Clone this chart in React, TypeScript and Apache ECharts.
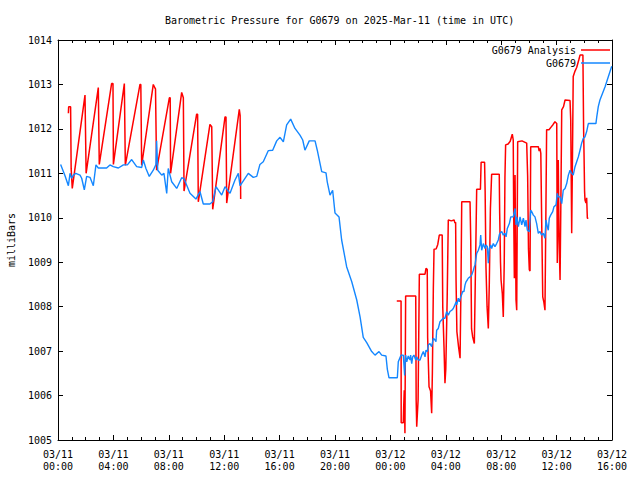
import React, { useEffect, useRef } from "react";
import * as echarts from "echarts";

const TITLE = "Barometric Pressure for G0679 on 2025-Mar-11 (time in UTC)";
const FONT = "'DejaVu Sans Mono', 'Liberation Mono', monospace";

// x in hours since 03/11 00:00 UTC
const xTickLabels = [
  "03/11\n00:00", "03/11\n04:00", "03/11\n08:00", "03/11\n12:00", "03/11\n16:00",
  "03/11\n20:00", "03/12\n00:00", "03/12\n04:00", "03/12\n08:00", "03/12\n12:00", "03/12\n16:00",
];

const analysisEarly: [number, number][] = [
  [0.75, 1012.35], [0.77, 1012.5], [0.91, 1012.5], [0.95, 1011.1], [1.03, 1010.66],
  [1.95, 1012.76], [2.0, 1012.76], [2.03, 1011.0],
  [2.91, 1012.93], [2.96, 1012.93], [2.98, 1011.2],
  [3.87, 1013.02], [3.97, 1013.02], [4.0, 1011.2],
  [4.79, 1013.02], [4.82, 1013.02], [4.86, 1011.18],
  [5.92, 1013.0], [5.98, 1013.0], [6.04, 1011.18],
  [6.88, 1013.0], [7.0, 1012.92], [7.04, 1012.9], [7.12, 1011.07],
  [8.04, 1012.7], [8.1, 1012.7], [8.13, 1011.0],
  [8.93, 1012.82], [9.05, 1012.7], [9.1, 1010.6],
  [10.01, 1012.33], [10.08, 1012.33], [10.13, 1010.36],
  [10.97, 1012.1], [11.1, 1012.05], [11.17, 1010.19],
  [12.06, 1012.27], [12.13, 1012.27], [12.18, 1010.33],
  [13.09, 1012.44], [13.15, 1012.3], [13.19, 1010.42],
];

const analysisLate: [number, number][] = [
  [24.46, 1008.13], [24.77, 1008.13], [24.78, 1005.39], [24.93, 1005.39], [24.96, 1005.75],
  [25.0, 1006.12], [25.05, 1005.15], [25.1, 1008.24], [25.83, 1008.24], [25.86, 1005.9],
  [25.9, 1005.3], [26.0, 1005.9], [26.09, 1008.73], [26.5, 1008.73], [26.57, 1008.86],
  [26.66, 1008.84], [26.69, 1007.3], [26.79, 1006.2], [26.9, 1006.1], [26.98, 1005.6],
  [27.03, 1006.5], [27.1, 1008.4], [27.15, 1009.29], [27.3, 1009.3], [27.42, 1009.4],
  [27.53, 1009.61], [27.74, 1009.61], [27.78, 1008.0], [27.87, 1007.1], [27.94, 1006.28],
  [28.0, 1006.6], [28.1, 1008.2], [28.18, 1009.95], [28.4, 1009.93], [28.6, 1009.95],
  [28.66, 1009.88], [28.71, 1009.9], [28.74, 1008.6], [28.8, 1007.44], [28.92, 1007.1],
  [29.03, 1006.84], [29.1, 1008.6], [29.15, 1010.36], [29.75, 1010.36], [29.8, 1009.5],
  [29.86, 1007.5], [29.94, 1007.32], [30.06, 1007.17], [30.14, 1008.8], [30.23, 1010.64],
  [30.5, 1010.64], [30.55, 1011.25], [30.8, 1011.25], [30.84, 1010.6], [30.9, 1008.9],
  [30.98, 1008.0], [31.07, 1007.51], [31.14, 1008.5], [31.22, 1010.2], [31.31, 1010.98],
  [31.86, 1010.98], [31.89, 1010.1], [31.95, 1009.0], [31.99, 1008.6], [32.08, 1008.3],
  [32.15, 1007.77], [32.22, 1009.0], [32.27, 1010.9], [32.32, 1011.64], [32.5, 1011.66],
  [32.65, 1011.72], [32.8, 1011.88], [32.87, 1011.75], [32.9, 1010.2], [32.95, 1008.64],
  [33.0, 1010.96], [33.07, 1008.15], [33.12, 1007.92], [33.19, 1011.71], [33.5, 1011.73],
  [33.84, 1011.68], [33.91, 1010.93], [33.97, 1009.3], [34.03, 1008.83], [34.08, 1008.8],
  [34.13, 1011.6], [34.68, 1011.6], [34.74, 1011.5], [34.8, 1011.56], [34.86, 1011.45],
  [34.92, 1010.0], [35.0, 1008.22], [35.08, 1008.1], [35.16, 1007.92], [35.22, 1009.9],
  [35.28, 1011.98], [35.45, 1011.98], [35.6, 1012.04], [35.75, 1012.1], [35.88, 1012.16],
  [36.01, 1012.12], [36.05, 1008.98], [36.12, 1011.3], [36.18, 1009.5], [36.25, 1008.6],
  [36.31, 1010.4], [36.37, 1012.43], [36.5, 1012.5], [36.61, 1012.65], [36.97, 1012.64],
  [37.02, 1012.2], [37.09, 1009.65], [37.15, 1011.5], [37.2, 1013.18], [37.33, 1013.3],
  [37.45, 1013.38], [37.6, 1013.55], [37.69, 1013.66], [37.9, 1013.66], [37.95, 1012.0],
  [37.98, 1011.45], [38.02, 1010.6], [38.05, 1010.4], [38.12, 1010.33], [38.17, 1010.45],
  [38.22, 1009.99], [38.29, 1009.99],
];

const station: [number, number][] = [
  [0.19, 1011.2], [0.5, 1010.95], [0.75, 1010.72], [0.87, 1011.0], [0.99, 1010.89],
  [1.11, 1010.96], [1.28, 1011.0], [1.59, 1010.96], [1.71, 1010.89], [1.9, 1010.63],
  [2.07, 1010.93], [2.31, 1010.91], [2.55, 1010.72], [2.74, 1011.19], [2.91, 1011.12],
  [3.51, 1011.12], [3.75, 1011.19], [3.99, 1011.15], [4.36, 1011.12], [4.72, 1011.19],
  [5.01, 1011.19], [5.32, 1011.31], [5.68, 1011.15], [6.04, 1011.13], [6.16, 1011.3],
  [6.35, 1011.11], [6.59, 1010.93], [6.88, 1011.07], [7.07, 1011.2], [7.12, 1011.73],
  [7.2, 1011.07], [7.49, 1010.96], [7.65, 1011.0], [7.85, 1010.55], [7.96, 1011.11],
  [8.21, 1010.81], [8.57, 1010.66], [8.93, 1010.9], [9.1, 1010.88], [9.53, 1010.55],
  [9.96, 1010.42], [10.25, 1010.59], [10.49, 1010.31], [10.97, 1010.31], [11.17, 1010.36],
  [11.41, 1010.7], [11.82, 1010.51], [12.06, 1010.7], [12.42, 1010.55], [12.78, 1010.85],
  [13.02, 1011.0], [13.14, 1010.72], [13.74, 1011.0], [14.1, 1010.91], [14.35, 1010.93],
  [14.58, 1011.2], [14.82, 1011.26], [15.18, 1011.51], [15.5, 1011.52], [15.79, 1011.73],
  [16.03, 1011.81], [16.27, 1011.71], [16.51, 1012.09], [16.8, 1012.22], [17.11, 1012.01],
  [17.47, 1011.86], [17.67, 1011.75], [17.83, 1011.52], [18.14, 1011.73], [18.56, 1011.73],
  [18.72, 1011.52], [19.04, 1011.04], [19.35, 1011.01], [19.44, 1010.81], [19.64, 1010.51],
  [19.83, 1010.62], [20.0, 1010.11], [20.29, 1010.02], [20.48, 1009.5], [20.84, 1008.9],
  [21.21, 1008.56], [21.57, 1008.15], [21.81, 1007.77], [22.04, 1007.31], [22.29, 1007.19],
  [22.65, 1006.99], [22.89, 1006.91], [23.18, 1006.99], [23.37, 1006.91], [23.68, 1006.89],
  [23.78, 1006.59], [23.9, 1006.4], [24.5, 1006.4], [24.57, 1006.76], [24.77, 1006.91],
  [24.93, 1006.91], [25.03, 1006.45], [25.07, 1006.76], [25.1, 1006.91], [25.18, 1006.76],
  [25.29, 1006.89], [25.42, 1006.8], [25.46, 1006.91], [25.54, 1006.72], [25.61, 1006.87],
  [25.7, 1006.91], [25.83, 1006.8], [25.9, 1006.87], [26.01, 1006.8], [26.14, 1006.8],
  [26.26, 1006.91], [26.38, 1006.99], [26.5, 1006.87], [26.57, 1007.02], [26.67, 1006.99],
  [26.74, 1007.14], [26.86, 1007.17], [26.98, 1007.1], [27.1, 1007.29], [27.22, 1007.25],
  [27.29, 1007.21], [27.34, 1007.47], [27.46, 1007.51], [27.58, 1007.66], [27.7, 1007.7],
  [27.82, 1007.74], [27.94, 1007.74], [28.06, 1007.89], [28.18, 1007.81], [28.3, 1007.89],
  [28.43, 1007.92], [28.54, 1007.96], [28.66, 1008.04], [28.74, 1008.11], [28.79, 1008.04],
  [28.9, 1008.19], [28.98, 1008.11], [29.08, 1008.22], [29.22, 1008.34], [29.31, 1008.34],
  [29.39, 1008.49], [29.46, 1008.56], [29.55, 1008.6], [29.62, 1008.64], [29.75, 1008.67],
  [29.87, 1008.71], [29.99, 1008.82], [30.06, 1008.9], [30.11, 1008.94], [30.23, 1009.2],
  [30.35, 1009.27], [30.47, 1009.39], [30.52, 1009.61], [30.59, 1009.27], [30.71, 1009.42],
  [30.83, 1009.31], [30.9, 1009.39], [31.0, 1009.35], [31.07, 1008.98], [31.14, 1009.31],
  [31.24, 1009.39], [31.31, 1009.31], [31.43, 1009.42], [31.55, 1009.35], [31.67, 1009.42],
  [31.79, 1009.5], [31.86, 1009.61], [31.91, 1009.65], [32.04, 1009.69], [32.15, 1009.61],
  [32.27, 1009.65], [32.35, 1009.57], [32.44, 1009.76], [32.59, 1009.87], [32.69, 1010.02],
  [32.87, 1010.02], [33.0, 1010.21], [33.07, 1009.84], [33.12, 1010.02], [33.24, 1009.8],
  [33.36, 1010.02], [33.48, 1009.84], [33.6, 1009.99], [33.72, 1009.8], [33.79, 1009.95],
  [33.89, 1009.72], [34.03, 1009.69], [34.13, 1010.17], [34.2, 1010.14], [34.32, 1010.06],
  [34.44, 1010.02], [34.56, 1009.87], [34.68, 1009.65], [34.8, 1009.69], [34.92, 1009.61],
  [35.04, 1009.65], [35.16, 1009.54], [35.23, 1009.95], [35.33, 1009.8], [35.4, 1009.72],
  [35.47, 1009.99], [35.57, 1010.06], [35.72, 1010.14], [35.81, 1010.25], [35.96, 1010.29],
  [36.05, 1010.55], [36.12, 1010.47], [36.25, 1010.47], [36.37, 1010.32], [36.48, 1010.62],
  [36.61, 1010.66], [36.73, 1010.77], [36.85, 1010.96], [36.97, 1011.07], [37.09, 1011.0],
  [37.2, 1010.96], [37.33, 1011.15], [37.45, 1011.26], [37.57, 1011.37], [37.69, 1011.52],
  [37.81, 1011.68], [37.93, 1011.79], [38.05, 1011.82], [38.17, 1011.94], [38.29, 1012.12],
  [38.84, 1012.12], [38.9, 1012.27], [39.01, 1012.5], [39.13, 1012.65], [39.5, 1012.95],
  [39.98, 1013.41],
];

const RED = "#ff0000";
const BLUE = "#1487ff";

function axisCommon() {
  return {
    axisLine: { show: true, onZero: false, lineStyle: { color: "#000", width: 1 } },
    splitLine: { show: false },
  };
}

export default function App() {
  const ref = useRef<HTMLDivElement>(null);
  useEffect(() => {
    if (!ref.current) return;
    const chart = echarts.init(ref.current, undefined, { renderer: "svg" });
    const xBase = {
      type: "value" as const,
      min: 0,
      max: 40,
      interval: 4,
      ...axisCommon(),
      axisTick: { show: true, inside: true, length: 5, lineStyle: { color: "#000" } },
      minorTick: { show: true, splitNumber: 4, length: 3, lineStyle: { color: "#000" } },
    };
    const yBase = {
      type: "value" as const,
      min: 1005,
      max: 1014,
      interval: 1,
      ...axisCommon(),
      axisTick: { show: true, inside: true, length: 5, lineStyle: { color: "#000" } },
    };
    chart.setOption({
      animation: false,
      backgroundColor: "#fff",
      title: {
        text: TITLE,
        left: 165,
        top: 15,
        padding: 0,
        textStyle: { fontFamily: FONT, fontSize: 10, fontWeight: "normal", color: "#000" },
      },
      legend: {
        orient: "vertical",
        right: 30,
        top: 44,
        padding: 0,
        align: "right",
        itemGap: 1,
        itemWidth: 29,
        itemHeight: 1.5,
        icon: "rect",
        textStyle: { fontFamily: FONT, fontSize: 10, color: "#000", lineHeight: 12 },
        data: ["G0679 Analysis", "G0679"],
      },
      grid: { left: 58, top: 40, right: 28, bottom: 40, containLabel: false, outerBoundsMode: "none" },
      xAxis: [
        {
          ...xBase,
          position: "bottom",
          axisLabel: {
            color: "#000",
            fontFamily: FONT,
            fontSize: 10,
            lineHeight: 12.5,
            margin: 8,
            formatter: (v: number) => xTickLabels[Math.round(v / 4)] ?? "",
          },
        },
        { ...xBase, position: "top", axisLabel: { show: false } },
      ],
      yAxis: [
        {
          ...yBase,
          position: "left",
          name: "milliBars",
          nameLocation: "middle",
          nameGap: 42,
          nameTextStyle: { fontFamily: FONT, fontSize: 10, color: "#000" },
          axisLabel: {
            color: "#000",
            fontFamily: FONT,
            fontSize: 10,
            margin: 6,
            formatter: (v: number) => String(Math.round(v)),
          },
        },
        { ...yBase, position: "right", axisLabel: { show: false } },
      ],
      series: [
        {
          type: "line",
          name: "G0679 Analysis",
          data: analysisEarly,
          color: RED,
          showSymbol: false,
          symbol: "none",
          lineStyle: { width: 1.5, color: RED },
          xAxisIndex: 0,
          yAxisIndex: 0,
        },
        {
          type: "line",
          name: "G0679 Analysis",
          data: analysisLate,
          color: RED,
          showSymbol: false,
          symbol: "none",
          lineStyle: { width: 1.5, color: RED },
          xAxisIndex: 0,
          yAxisIndex: 0,
        },
        {
          type: "line",
          name: "G0679",
          data: station,
          color: BLUE,
          showSymbol: false,
          symbol: "none",
          lineStyle: { width: 1.4, color: BLUE },
          xAxisIndex: 0,
          yAxisIndex: 0,
        },
      ],
    });
    return () => chart.dispose();
  }, []);
  return (
    <div
      ref={ref}
      style={{ position: "fixed", left: 0, top: 0, width: 640, height: 480, background: "#fff" }}
    />
  );
}
